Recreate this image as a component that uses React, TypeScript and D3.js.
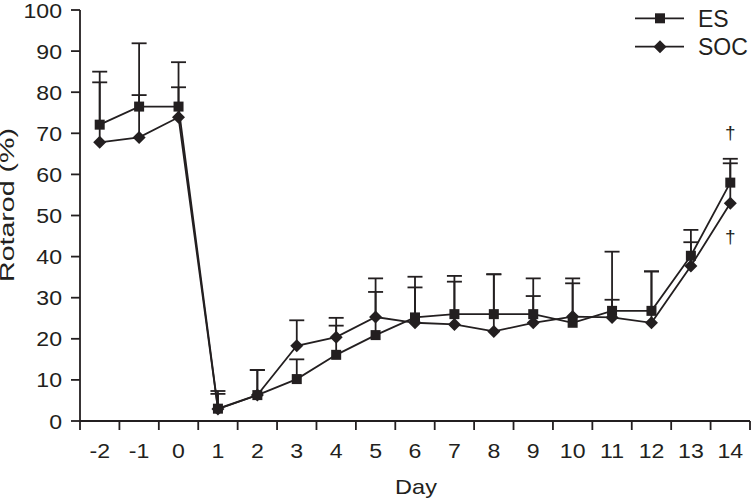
import React from "react";
import * as d3 from "d3";

const days = ["-2", "-1", "0", "1", "2", "3", "4", "5", "6", "7", "8", "9", "10", "11", "12", "13", "14"];
const esMean = [72.1, 76.5, 76.5, 3.0, 6.3, 10.2, 16.1, 20.9, 25.2, 26.0, 26.0, 26.0, 23.9, 26.8, 26.8, 40.2, 58.0];
const socMean = [67.8, 69.0, 73.9, 2.9, 6.3, 18.3, 20.4, 25.3, 23.9, 23.5, 21.8, 23.9, 25.4, 25.2, 23.9, 37.7, 53.0];
const esUpper = [85.0, 91.9, 87.3, 7.3, 12.4, 15.0, 25.1, 34.7, 35.1, 35.3, 35.7, 34.7, 34.7, 41.2, 36.4, 46.5, 63.8];
const socUpper = [82.4, 79.3, 81.2, 6.6, 12.4, 24.5, 23.2, 31.4, 32.5, 33.9, 35.7, 30.4, 33.5, 29.5, 36.4, 43.5, 62.7];
const yTicks = [0, 10, 20, 30, 40, 50, 60, 70, 80, 90, 100];
const daggers = [
  { day: "14", value: 70.4 },
  { day: "14", value: 44.9 },
];

const W = 751;
const H = 501;
const left = 80;
const right = 750;
const top = 10;
const bottom = 421;

function SText({ x, y, sx = 1, size = 20, anchor = "middle", children }: any) {
  return (
    <text
      transform={`translate(${x},${y}) scale(${sx},1)`}
      textAnchor={anchor}
      fontSize={size}
      fontFamily="'Liberation Sans', Arial, sans-serif"
      fill="#231f20"
    >
      {children}
    </text>
  );
}

export default function App() {
  const x = d3.scaleBand<string>().domain(days).range([left, right]).padding(0);
  const y = d3.scaleLinear().domain([0, 100]).range([bottom, top]);
  const cx = (d: string) => (x(d) as number) + x.bandwidth() / 2;
  const line = d3
    .line<number>()
    .x((_, i) => cx(days[i]))
    .y((v) => y(v));
  const ink = "#231f20";
  const capW = 7.5;
  const sq = 5;
  const dm = 6.5;
  const diamond = (px: number, py: number) =>
    `M${px},${py - dm}L${px + dm},${py}L${px},${py + dm}L${px - dm},${py}Z`;

  const boundaries = days.map((d) => x(d) as number).concat([right]);

  return (
    <svg width={W} height={H} style={{ position: "absolute", left: 0, top: 0, background: "#fff" }}>
      <rect width={W} height={H} fill="#fff" />
      {[esUpper, socUpper].map((ups, si) =>
        ups.map((u, i) => {
          const m = si === 0 ? esMean[i] : socMean[i];
          const px = cx(days[i]);
          return (
            <g key={`e${si}-${i}`} stroke={ink} strokeWidth={1.8}>
              <line x1={px} x2={px} y1={y(m)} y2={y(u)} />
              <line x1={px - capW} x2={px + capW} y1={y(u)} y2={y(u)} />
            </g>
          );
        })
      )}
      <path d={line(esMean) || ""} fill="none" stroke={ink} strokeWidth={1.8} />
      <path d={line(socMean) || ""} fill="none" stroke={ink} strokeWidth={1.8} />
      {esMean.map((v, i) => (
        <rect key={`s${i}`} x={cx(days[i]) - sq} y={y(v) - sq} width={sq * 2} height={sq * 2} fill={ink} />
      ))}
      {socMean.map((v, i) => (
        <path key={`d${i}`} d={diamond(cx(days[i]), y(v))} fill={ink} />
      ))}
      <g stroke={ink} strokeWidth={1.8}>
        <line x1={left} x2={left} y1={top} y2={bottom} />
        <line x1={left} x2={right} y1={bottom} y2={bottom} />
        {yTicks.map((t) => (
          <line key={`yt${t}`} x1={left - 9} x2={left} y1={y(t)} y2={y(t)} />
        ))}
        {boundaries.map((b, i) => (
          <line key={`xt${i}`} x1={b} x2={b} y1={bottom} y2={bottom + 9} />
        ))}
      </g>
      {yTicks.map((t) => (
        <SText key={`yl${t}`} x={62} y={y(t) + 7.5} size={21} sx={1.1} anchor="end">
          {t}
        </SText>
      ))}
      {days.map((d) => (
        <SText key={`xl${d}`} x={cx(d)} y={457.5} size={21} sx={1.1}>
          {d}
        </SText>
      ))}
      <SText x={416} y={494} size={21} sx={1.12}>
        Day
      </SText>
      <text
        transform={`translate(14,205) rotate(-90)`}
        textAnchor="middle"
        fontSize={21}
        fontFamily="'Liberation Sans', Arial, sans-serif"
        fill={ink}
        textLength={154}
        lengthAdjust="spacingAndGlyphs"
      >
        Rotarod (%)
      </text>
      {daggers.map((g, i) => (
        <SText key={`dg${i}`} x={cx(g.day)} y={y(g.value) + 7} size={19}>
          †
        </SText>
      ))}
      <g>
        <line x1={635} x2={684} y1={18.3} y2={18.3} stroke={ink} strokeWidth={1.8} />
        <rect x={660 - sq} y={18.3 - sq} width={sq * 2} height={sq * 2} fill={ink} />
        <line x1={635} x2={684} y1={46.7} y2={46.7} stroke={ink} strokeWidth={1.8} />
        <path d={diamond(660, 46.7)} fill={ink} />
        <SText x={698} y={27} size={23} anchor="start">
          ES
        </SText>
        <SText x={698} y={55} size={23} anchor="start">
          SOC
        </SText>
      </g>
    </svg>
  );
}
